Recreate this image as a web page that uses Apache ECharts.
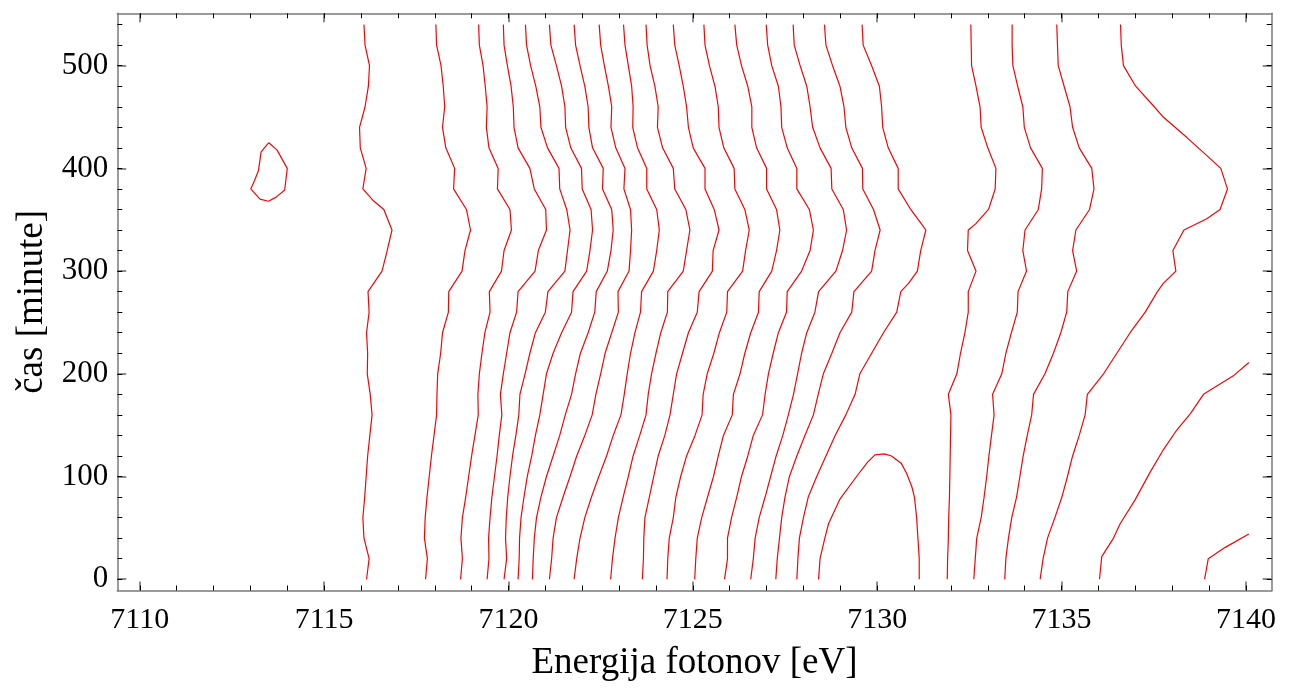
<!DOCTYPE html>
<html><head><meta charset="utf-8">
<script src="https://cdn.jsdelivr.net/npm/echarts@6/dist/echarts.min.js"></script>
<style>html,body{margin:0;padding:0;background:#fff}#chart{width:1289px;height:700px}</style>
</head><body><div id="chart"></div>
<script>
const xTitle = 'Energija fotonov [eV]';
const yTitle = 'čas [minute]';
const xMajorTicks = [7110, 7115, 7120, 7125, 7130, 7135, 7140];
const xMinorTicks = [7110,7111,7112,7113,7114,7115,7116,7117,7118,7119,7120,7121,7122,7123,7124,7125,7126,7127,7128,7129,7130,7131,7132,7133,7134,7135,7136,7137,7138,7139,7140];
const yMajorTicks = [0, 100, 200, 300, 400, 500];
const yMinorTicks = [0,20,40,60,80,100,120,140,160,180,200,220,240,260,280,300,320,340,360,380,400,420,440,460,480,500,520,540];

// contour lines: [energy eV, time min]
const c01 = [[7116.15,0],[7116.22,20],[7116.08,40],[7116.05,60],[7116.10,80],[7116.14,100],[7116.18,120],[7116.24,140],[7116.30,160],[7116.25,180],[7116.17,200],[7116.18,220],[7116.15,240],[7116.22,260],[7116.19,280],[7116.57,300],[7116.71,320],[7116.84,340],[7116.62,360],[7116.32,369],[7116.05,380],[7116.14,400],[7115.98,420],[7115.96,440],[7116.11,460],[7116.20,480],[7116.23,500],[7116.11,520],[7116.08,540]];
const c02 = [[7117.75,0],[7117.80,20],[7117.72,40],[7117.74,60],[7117.79,80],[7117.85,100],[7117.91,120],[7117.98,140],[7118.05,160],[7118.06,180],[7118.08,200],[7118.16,220],[7118.21,240],[7118.37,260],[7118.38,280],[7118.74,300],[7118.82,320],[7118.97,340],[7118.86,360],[7118.51,380],[7118.54,400],[7118.30,420],[7118.21,440],[7118.27,460],[7118.23,480],[7118.17,500],[7118.05,520],[7118.03,540]];
const c03 = [[7118.70,0],[7118.75,20],[7118.71,40],[7118.75,60],[7118.84,80],[7118.92,100],[7119.00,120],[7119.09,140],[7119.18,160],[7119.17,180],[7119.21,200],[7119.28,220],[7119.36,240],[7119.50,260],[7119.48,280],[7119.81,300],[7119.88,320],[7120.08,340],[7120.04,360],[7119.70,380],[7119.72,400],[7119.47,420],[7119.40,440],[7119.42,460],[7119.37,480],[7119.31,500],[7119.21,520],[7119.19,540]];
const c04 = [[7119.42,0],[7119.47,20],[7119.46,40],[7119.50,60],[7119.55,80],[7119.62,100],[7119.69,120],[7119.75,140],[7119.82,160],[7119.78,180],[7119.86,200],[7119.95,220],[7120.04,240],[7120.22,260],[7120.26,280],[7120.72,300],[7120.81,320],[7121.03,340],[7121.01,360],[7120.70,380],[7120.58,400],[7120.26,420],[7120.15,440],[7120.13,460],[7120.07,480],[7119.97,500],[7119.88,520],[7119.86,540]];
const c05 = [[7119.88,0],[7119.95,20],[7119.92,40],[7119.94,60],[7119.98,80],[7120.04,100],[7120.11,120],[7120.20,140],[7120.28,160],[7120.31,180],[7120.45,200],[7120.58,220],[7120.73,240],[7121.00,260],[7121.07,280],[7121.53,300],[7121.60,320],[7121.67,340],[7121.58,360],[7121.39,380],[7121.37,400],[7121.06,420],[7120.88,440],[7120.85,460],[7120.74,480],[7120.60,500],[7120.49,520],[7120.46,540]];
const c06 = [[7120.26,0],[7120.29,20],[7120.30,40],[7120.34,60],[7120.42,80],[7120.51,100],[7120.63,120],[7120.73,140],[7120.85,160],[7120.94,180],[7121.03,200],[7121.21,220],[7121.44,240],[7121.71,260],[7121.75,280],[7122.12,300],[7122.21,320],[7122.28,340],[7122.24,360],[7122.00,380],[7121.98,400],[7121.69,420],[7121.55,440],[7121.53,460],[7121.44,480],[7121.30,500],[7121.15,520],[7121.11,540]];
const c07 = [[7120.65,0],[7120.67,20],[7120.70,40],[7120.76,60],[7120.88,80],[7121.03,100],[7121.21,120],[7121.39,140],[7121.54,160],[7121.71,180],[7121.82,200],[7121.95,220],[7122.16,240],[7122.34,260],[7122.38,280],[7122.68,300],[7122.78,320],[7122.84,340],[7122.80,360],[7122.55,380],[7122.57,400],[7122.28,420],[7122.18,440],[7122.16,460],[7122.07,480],[7121.94,500],[7121.82,520],[7121.78,540]];
const c08 = [[7121.11,0],[7121.17,20],[7121.21,40],[7121.30,60],[7121.48,80],[7121.67,100],[7121.85,120],[7122.07,140],[7122.27,160],[7122.37,180],[7122.50,200],[7122.62,220],[7122.80,240],[7122.98,260],[7122.97,280],[7123.27,300],[7123.31,320],[7123.34,340],[7123.31,360],[7123.13,380],[7123.16,400],[7122.91,420],[7122.78,440],[7122.80,460],[7122.71,480],[7122.60,500],[7122.50,520],[7122.46,540]];
const c09 = [[7121.78,0],[7121.85,20],[7121.94,40],[7122.07,60],[7122.25,80],[7122.45,100],[7122.66,120],[7122.84,140],[7123.05,160],[7123.14,180],[7123.22,200],[7123.31,220],[7123.43,240],[7123.58,260],[7123.61,280],[7123.93,300],[7124.02,320],[7124.09,340],[7124.02,360],[7123.75,380],[7123.75,400],[7123.50,420],[7123.37,440],[7123.38,460],[7123.34,480],[7123.25,500],[7123.16,520],[7123.12,540]];
const c10 = [[7122.77,0],[7122.82,20],[7122.89,40],[7122.98,60],[7123.11,80],[7123.25,100],[7123.38,120],[7123.56,140],[7123.73,160],[7123.79,180],[7123.88,200],[7124.00,220],[7124.13,240],[7124.31,260],[7124.32,280],[7124.74,300],[7124.83,320],[7124.92,340],[7124.81,360],[7124.51,380],[7124.47,400],[7124.18,420],[7124.04,440],[7124.06,460],[7123.97,480],[7123.84,500],[7123.76,520],[7123.73,540]];
const c11 = [[7123.63,0],[7123.66,20],[7123.67,40],[7123.70,60],[7123.82,80],[7123.94,100],[7124.06,120],[7124.24,140],[7124.38,160],[7124.47,180],[7124.56,200],[7124.72,220],[7124.88,240],[7125.12,260],[7125.17,280],[7125.53,300],[7125.55,320],[7125.71,340],[7125.58,360],[7125.33,380],[7125.33,400],[7125.01,420],[7124.88,440],[7124.83,460],[7124.74,480],[7124.63,500],[7124.51,520],[7124.47,540]];
const c12 = [[7124.30,0],[7124.32,20],[7124.36,40],[7124.47,60],[7124.54,80],[7124.67,100],[7124.83,120],[7125.06,140],[7125.25,160],[7125.28,180],[7125.39,200],[7125.57,220],[7125.72,240],[7125.92,260],[7125.94,280],[7126.35,300],[7126.43,320],[7126.53,340],[7126.41,360],[7126.14,380],[7126.12,400],[7125.84,420],[7125.71,440],[7125.69,460],[7125.60,480],[7125.45,500],[7125.33,520],[7125.30,540]];
const c13 = [[7125.05,0],[7125.08,20],[7125.12,40],[7125.24,60],[7125.40,80],[7125.56,100],[7125.69,120],[7125.83,140],[7126.07,160],[7126.10,180],[7126.28,200],[7126.41,220],[7126.57,240],[7126.78,260],[7126.80,280],[7127.14,300],[7127.27,320],[7127.36,340],[7127.27,360],[7127.00,380],[7127.00,400],[7126.73,420],[7126.60,440],[7126.60,460],[7126.49,480],[7126.32,500],[7126.19,520],[7126.14,540]];
const c14 = [[7125.86,0],[7125.94,20],[7125.94,40],[7126.05,60],[7126.19,80],[7126.32,100],[7126.49,120],[7126.64,140],[7126.89,160],[7126.96,180],[7127.05,200],[7127.18,220],[7127.32,240],[7127.54,260],[7127.56,280],[7127.95,300],[7128.18,320],[7128.27,340],[7128.16,360],[7127.82,380],[7127.82,400],[7127.56,420],[7127.41,440],[7127.39,460],[7127.32,480],[7127.14,500],[7127.03,520],[7126.99,540]];
const c15 = [[7126.57,0],[7126.64,20],[7126.69,40],[7126.80,60],[7126.96,80],[7127.11,100],[7127.26,120],[7127.44,140],[7127.59,160],[7127.73,180],[7127.84,200],[7127.95,220],[7128.09,240],[7128.31,260],[7128.41,280],[7128.88,300],[7129.06,320],[7129.17,340],[7129.08,360],[7128.77,380],[7128.75,400],[7128.45,420],[7128.25,440],[7128.18,460],[7128.09,480],[7127.91,500],[7127.75,520],[7127.72,540]];
const c16 = [[7127.25,0],[7127.29,20],[7127.35,40],[7127.41,60],[7127.50,80],[7127.62,100],[7127.82,120],[7128.04,140],[7128.27,160],[7128.40,180],[7128.54,200],[7128.77,220],[7128.99,240],[7129.31,260],[7129.37,280],[7129.85,300],[7129.94,320],[7130.08,340],[7129.90,360],[7129.61,380],[7129.60,400],[7129.31,420],[7129.15,440],[7129.10,460],[7128.99,480],[7128.79,500],[7128.61,520],[7128.57,540]];
const c17 = [[7127.82,0],[7127.85,20],[7127.89,40],[7128.00,60],[7128.13,80],[7128.36,100],[7128.61,120],[7128.86,140],[7129.15,160],[7129.40,180],[7129.53,200],[7129.85,220],[7130.17,240],[7130.53,260],[7130.64,280],[7130.85,288],[7131.09,300],[7131.18,320],[7131.32,340],[7131.16,348],[7130.91,360],[7130.57,380],[7130.57,400],[7130.30,420],[7130.15,440],[7130.12,460],[7130.06,480],[7129.85,500],[7129.62,520],[7129.59,540]];
const c18 = [[7131.90,0],[7131.91,20],[7131.93,40],[7131.94,60],[7131.96,80],[7131.97,100],[7131.98,120],[7131.99,140],[7132.00,160],[7131.93,180],[7132.16,200],[7132.26,220],[7132.38,240],[7132.47,260],[7132.47,280],[7132.68,300],[7132.45,320],[7132.47,340],[7132.67,346],[7133.02,360],[7133.20,380],[7133.22,400],[7133.00,420],[7132.82,440],[7132.79,460],[7132.68,480],[7132.56,500],[7132.55,520],[7132.54,540]];
const c19 = [[7132.62,0],[7132.66,20],[7132.70,40],[7132.82,60],[7132.90,80],[7132.97,100],[7133.03,120],[7133.10,140],[7133.17,160],[7133.13,180],[7133.38,200],[7133.49,220],[7133.64,240],[7133.80,260],[7133.82,280],[7134.05,300],[7133.95,320],[7134.01,340],[7134.37,360],[7134.46,380],[7134.48,400],[7134.16,420],[7133.99,440],[7133.95,460],[7133.81,480],[7133.68,500],[7133.66,520],[7133.66,540]];
const c20 = [[7133.46,0],[7133.49,20],[7133.56,40],[7133.65,60],[7133.78,80],[7133.87,100],[7133.96,120],[7134.07,140],[7134.19,160],[7134.24,180],[7134.55,200],[7134.78,220],[7134.98,240],[7135.14,260],[7135.17,280],[7135.41,300],[7135.30,320],[7135.39,340],[7135.76,360],[7135.88,380],[7135.82,400],[7135.48,420],[7135.30,440],[7135.23,460],[7135.07,480],[7134.91,500],[7134.89,520],[7134.87,540]];
const c21 = [[7134.42,0],[7134.50,20],[7134.62,40],[7134.82,60],[7135.01,80],[7135.16,100],[7135.30,120],[7135.48,140],[7135.64,160],[7135.70,180],[7136.14,200],[7136.50,220],[7136.86,240],[7137.27,260],[7137.60,280],[7137.76,288],[7138.10,300],[7138.02,320],[7138.32,340],[7138.94,351],[7139.30,360],[7139.50,380],[7139.32,400],[7138.80,417],[7138.40,430],[7138.08,440],[7137.76,450],[7137.49,461],[7137.01,480],[7136.68,500],[7136.62,520],[7136.60,540]];
const c22 = [[7136.03,0],[7136.09,22],[7136.41,40],[7136.59,54],[7136.99,77],[7137.40,104],[7137.76,126],[7138.12,145],[7138.49,161],[7138.85,180],[7139.66,198],[7140.08,211]];
const c23 = [[7138.88,0],[7138.98,20],[7139.44,31],[7140.08,44]];
const arch = [[7128.41,0],[7128.45,20],[7128.58,40],[7128.68,54],[7128.99,78],[7129.44,100],[7129.74,114],[7129.94,121],[7130.19,122],[7130.39,120],[7130.65,113],[7130.80,103],[7130.94,90],[7131.01,80],[7131.07,60],[7131.09,48],[7131.14,20],[7131.14,0]];
const loop = [[7113.50,425],[7113.72,418],[7114.00,400],[7113.93,379],[7113.70,372],[7113.49,368],[7113.26,370],[7113.01,380],[7113.11,388],[7113.22,398],[7113.29,416],[7113.50,425]];

const contours = [c01,c02,c03,c04,c05,c06,c07,c08,c09,c10,c11,c12,c13,c14,c15,c16,c17,c18,c19,c20,c21,c22,c23,arch,loop];

const X_MIN = 7109.39, X_MAX = 7140.70, Y_MIN = -11, Y_MAX = 551;
const FONT = 'Liberation Serif';
const frameColor = '#7a7a7a';
const plainNumber = function (v) { return String(Math.round(v)); };

function xAxisDef(pos, ticks, len, showLine, showLabel, color, width) {
  return {
    type: 'value', position: pos, min: X_MIN, max: X_MAX,
    axisLine: { show: showLine, onZero: false, lineStyle: { color: frameColor, width: 1.5 } },
    axisTick: { show: true, inside: true, length: len, customValues: ticks, lineStyle: { color: color, width: width } },
    axisLabel: showLabel ? { show: true, customValues: ticks, formatter: plainNumber, fontFamily: FONT, fontSize: 30, color: '#000', margin: 15 } : { show: false },
    splitLine: { show: false }
  };
}
function yAxisDef(pos, ticks, len, showLine, showLabel, color, width) {
  return {
    type: 'value', position: pos, min: Y_MIN, max: Y_MAX,
    axisLine: { show: showLine, onZero: false, lineStyle: { color: frameColor, width: 1.5 } },
    axisTick: { show: true, inside: true, length: len, customValues: ticks, lineStyle: { color: color, width: width } },
    axisLabel: showLabel ? { show: true, customValues: ticks, formatter: plainNumber, fontFamily: FONT, fontSize: 31, color: '#000', margin: 9 } : { show: false },
    splitLine: { show: false }
  };
}

const xAxes = [
  xAxisDef('bottom', xMajorTicks, 9, true, true, '#6a6a6a', 1.5),
  xAxisDef('bottom', xMinorTicks, 5, false, false, '#000', 1),
  xAxisDef('top', xMajorTicks, 9, true, false, '#6a6a6a', 1.5),
  xAxisDef('top', xMinorTicks, 5, false, false, '#000', 1)
];
xAxes[0].name = xTitle;
xAxes[0].nameLocation = 'middle';
xAxes[0].nameGap = 54;
xAxes[0].nameTextStyle = { fontFamily: FONT, fontSize: 37, color: '#000' };

const yAxes = [
  yAxisDef('left', yMajorTicks, 9, true, true, '#6a6a6a', 1.5),
  yAxisDef('left', yMinorTicks, 5, false, false, '#000', 1),
  yAxisDef('right', yMajorTicks, 9, true, false, '#6a6a6a', 1.5),
  yAxisDef('right', yMinorTicks, 5, false, false, '#000', 1)
];
yAxes[0].name = yTitle;
yAxes[0].nameLocation = 'middle';
yAxes[0].nameGap = 62;
yAxes[0].nameRotate = 90;
yAxes[0].nameTextStyle = { fontFamily: FONT, fontSize: 37, color: '#000' };

const chart = echarts.init(document.getElementById('chart'), null, { renderer: 'canvas' });
chart.setOption({
  animation: false,
  backgroundColor: '#ffffff',
  grid: { left: 117.3, right: 17.3, top: 13.3, bottom: 109.5, containLabel: false },
  xAxis: xAxes,
  yAxis: yAxes,
  series: contours.map(function (c) {
    return {
      type: 'line', data: c, xAxisIndex: 0, yAxisIndex: 0,
      showSymbol: false, symbol: 'none', silent: true, smooth: false,
      lineStyle: { color: '#ff0000', width: 1.2 }
    };
  })
});
</script>
</body></html>
